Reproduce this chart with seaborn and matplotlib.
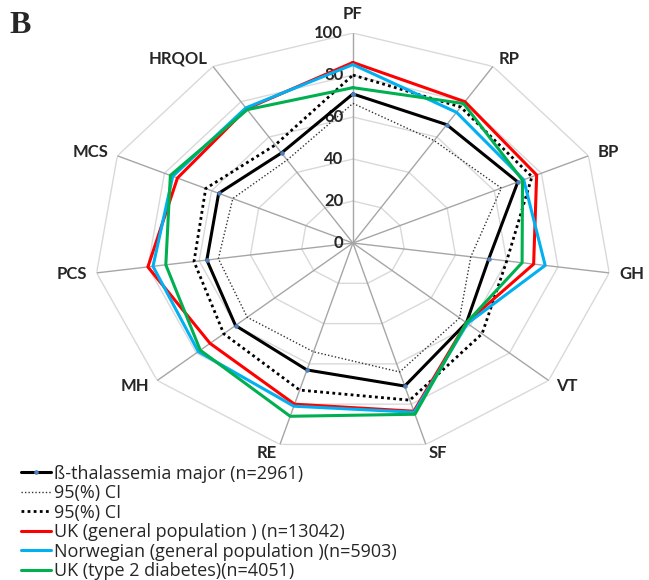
import numpy as np
import pandas as pd
import matplotlib
matplotlib.use("Agg")
import matplotlib.pyplot as plt
import seaborn as sns

OUT_PATH = "out.png"

# SF-36 domains, clockwise from the top
categories = ["PF", "RP", "BP", "GH", "VT", "SF", "RE", "MH", "PCS", "MCS", "HRQOL"]
radial_ticks = [0, 20, 40, 60, 80, 100]

thalassemia = [71, 67, 70, 53, 58, 71, 63, 60, 57, 57, 51]
ci_lower = [66.5, 58, 63, 46, 54.5, 64, 54, 54, 52.5, 51, 47]
ci_upper = [80, 77, 76, 60, 66, 78, 73, 66, 62, 62.5, 55.5]
uk_general = [86, 80, 78, 70.5, 58, 83.5, 80, 73, 80, 74.5, 76]
norway_general = [85, 74, 72.5, 75, 58.5, 84, 81, 79, 78, 76.5, 76.5]
uk_diabetes = [74, 79, 72, 66, 58, 85, 86, 78, 73, 77.5, 75.5]

labels = [
    "ß-thalassemia major (n=2961)",
    "95(%) CI",
    "95(%) CI",
    "UK (general population ) (n=13042)",
    "Norwegian (general population )(n=5903)",
    "UK (type 2 diabetes)(n=4051)",
]


def closed_frame(values):
    """Angles and values for one series, closed back to the first domain"""
    n = len(categories)
    theta = np.linspace(0, 2 * np.pi, n, endpoint=False)
    return pd.DataFrame({
        "theta": np.append(theta, 2 * np.pi),
        "value": list(values) + [values[0]],
    })


def draw_grid(ax):
    """Excel-style polygon grid with spokes and labels"""
    n = len(categories)
    theta = np.linspace(0, 2 * np.pi, n, endpoint=False)
    ring_theta = np.append(theta, 2 * np.pi)
    for r in radial_ticks[1:]:
        ax.plot(ring_theta, [r] * (n + 1), color="#d9d9d9", lw=1.0, zorder=1)
    for t in theta:
        ax.plot([t, t], [0, 100], color="#a6a6a6", lw=1.0, zorder=1)
    for r in radial_ticks:
        ax.annotate(str(r), xy=(0, r), xytext=(-7, 0), textcoords="offset points",
                    ha="right", va="center", fontsize=12, fontweight="bold")

    # category labels sit just outside the outer polygon corner
    px = 0.72  # points per pixel at 100 dpi
    for t, name in zip(theta, categories):
        s, c = np.sin(t), np.cos(t)
        if abs(s) < 0.1:
            ha, dx, dy = "center", 0, 19 * c
        else:
            ha = "left" if s > 0 else "right"
            dx, dy = 10 * s, 9 * c
        ax.annotate(name, xy=(t, 100), xytext=(dx * px, dy * px),
                    textcoords="offset points", ha=ha, va="center",
                    fontsize=12, fontweight="bold")


def main():
    sns.set_style("white")
    plt.rcParams["font.family"] = ["Lato", "DejaVu Sans"]

    fig = plt.figure(figsize=(6.49, 5.80), dpi=100)
    ax = fig.add_axes([0.1448, 0.219, 0.798, 0.724], projection="polar")
    ax.set_aspect("auto")
    ax.set_theta_zero_location("N")
    ax.set_theta_direction(-1)
    ax.set_ylim(0, 100)
    ax.grid(False)
    ax.set_xticks([])
    ax.set_yticks([])
    ax.spines["polar"].set_visible(False)
    ax.patch.set_alpha(0)

    draw_grid(ax)

    series = [
        (thalassemia, dict(color="black", lw=2.2, linestyle="-", marker="o",
                           markersize=2.5, markerfacecolor="#4f81bd",
                           markeredgecolor="#4f81bd")),
        (ci_lower, dict(color="#333333", lw=1.0, linestyle=(0, (1, 1.5)))),
        (ci_upper, dict(color="black", lw=2.0, linestyle=(0, (1, 1.2)))),
        (uk_general, dict(color="#ff0000", lw=2.2, linestyle="-")),
        (norway_general, dict(color="#00b0f0", lw=2.2, linestyle="-")),
        (uk_diabetes, dict(color="#00b050", lw=2.2, linestyle="-")),
    ]
    for (values, style), label in zip(series, labels):
        sns.lineplot(data=closed_frame(values), x="theta", y="value", sort=False,
                     estimator=None, ax=ax, label=label, zorder=3, **style)

    ax.set_xlabel("")
    ax.set_ylabel("")
    ax.get_legend().remove()
    handles, leg_labels = ax.get_legend_handles_labels()
    fig.legend(handles, leg_labels, loc="upper left", bbox_to_anchor=(0.032, 0.199),
               frameon=False, prop={"family": "Open Sans", "size": 13},
               handlelength=1.7, handletextpad=0.12, labelspacing=0.085,
               borderaxespad=0, borderpad=0)

    fig.text(0.015, 0.956, "B", fontsize=23, fontweight="bold",
             family="Liberation Serif", ha="left", va="center")

    fig.savefig(OUT_PATH, dpi=100)
    plt.close(fig)


if __name__ == "__main__":
    main()
